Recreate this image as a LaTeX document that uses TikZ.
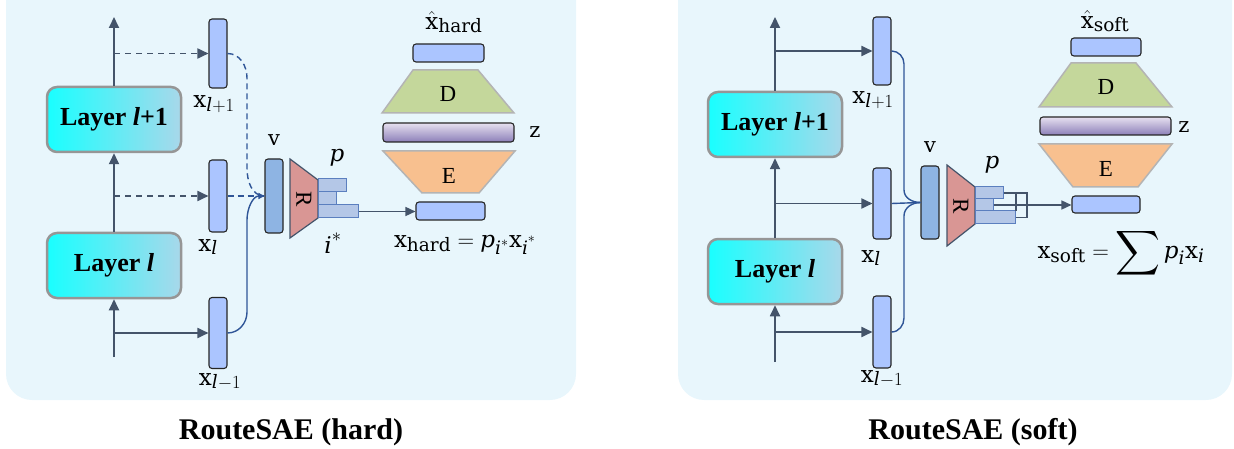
\RequirePackage{fix-cm}
\documentclass[tikz,border=0pt]{standalone}
\usepackage{amsmath}
\usepackage{fontspec}
\setmainfont{Liberation Serif}
\setmathrm{DejaVu Serif}
\newfontfamily\labelfont{DejaVu Serif}
\usetikzlibrary{arrows.meta}
\DeclareMathSizes{23}{23}{18.5}{14}
\definecolor{panelC}{HTML}{E8F6FC}
\definecolor{lineC}{HTML}{44546A}
\definecolor{curveC}{HTML}{2F5597}
\definecolor{barC}{HTML}{ABC5FF}
\definecolor{vC}{HTML}{8EB4E3}
\definecolor{rC}{HTML}{D99694}
\definecolor{pC}{HTML}{B4C7E7}
\definecolor{pEdge}{HTML}{5B7FBF}
\definecolor{encC}{HTML}{F8C08F}
\definecolor{decC}{HTML}{C4D79B}
\definecolor{trapEdge}{HTML}{B4B4B4}
\definecolor{zTop}{HTML}{E6E0F0}
\definecolor{zBot}{HTML}{8C7FB8}
\definecolor{layerL}{HTML}{19FFFF}
\definecolor{layerR}{HTML}{A8D8EA}
\definecolor{layerEdge}{HTML}{969696}
% upright vector letter and italic index letters for the labels
\newcommand{\vx}{\mathrm{x}}
\newcommand{\iv}[1]{\text{\labelfont\itshape #1}}
\newcommand{\bigsum}{\mathop{\vcenter{\hbox{\scalebox{1.25}{$\displaystyle\sum$}}}}}
\tikzset{
  panel/.style={fill=panelC, draw=none, rounded corners=26pt},
  layerbox/.style={draw=layerEdge, line width=2.5pt, rounded corners=10pt,
    left color=layerL, right color=layerR, minimum width=134pt, minimum height=65pt,
    inner sep=0pt, font=\bfseries\fontsize{26}{30}\selectfont},
  bar/.style={draw=black!85, line width=1.1pt, fill=barC, rounded corners=3pt,
    inner sep=0pt},
  vbar/.style={bar, fill=vC},
  pbar/.style={draw=pEdge, line width=1pt, fill=pC, inner sep=0pt},
  zbar/.style={draw=black!85, line width=1.1pt, top color=zTop, bottom color=zBot,
    rounded corners=3pt, inner sep=0pt},
  router/.style={draw=lineC, line width=1.2pt, fill=rC},
  enc/.style={draw=trapEdge, line width=1.5pt, fill=encC},
  dec/.style={draw=trapEdge, line width=1.5pt, fill=decC},
  flow/.style={draw=lineC, line width=1.8pt},
  tip/.style={-{Triangle[length=11pt,width=10pt]}},
  dashflow/.style={flow, dash pattern=on 6pt off 5pt},
  route/.style={draw=curveC, line width=1.4pt},
  smalltip/.style={-{Triangle[length=6pt,width=6pt]}},
  lbl/.style={inner sep=0pt, font=\fontsize{23}{27}\selectfont},
  vlbl/.style={inner sep=0pt, font=\labelfont\fontsize{21}{25}\selectfont},
  caption/.style={inner sep=0pt, font=\bfseries\fontsize{30}{34}\selectfont},
}
\begin{document}
\begin{tikzpicture}[x=1pt,y=-1pt]
\useasboundingbox (0,0) rectangle (1234,449);

% ---------------- hard routing ----------------
\path[panel] (6,-30) rectangle (576,400);

\node[layerbox] (hL1) at (114,119.5) {Layer \textit{l}+1};
\node[layerbox] (hL)  at (114,265.5) {Layer \textit{l}};
\coordinate (hin)  at (114,357);
\coordinate (hout) at (114,17);
\draw[flow,tip] (hin) -- (hL.south);
\draw[flow,tip] (hL.north) -- (hL1.south);
\draw[flow,tip] (hL1.north) -- (hout);

\node[bar, minimum width=18pt, minimum height=69pt] (hx3) at (218,53.5) {};
\node[bar, minimum width=18pt, minimum height=72pt] (hx2) at (218,196) {};
\node[bar, minimum width=18pt, minimum height=71pt] (hx1) at (218,333) {};
\coordinate (ht3) at (114,53.5);
\coordinate (ht2) at (114,196);
\coordinate (ht1) at (114,333);
\draw[dashflow,tip] (ht3) -- (hx3.west);
\draw[dashflow,tip] (ht2) -- (hx2.west);
\draw[flow,tip] (ht1) -- (hx1.west);

\node[lbl] (hlx3) at (214,104) {$\vx_{\iv{l}+1}$};
\node[lbl] (hlx2) at (208,247) {$\vx_{\iv{l}}$};
\node[lbl] (hlx1) at (220,382) {$\vx_{\iv{l}-1}$};

\node[vbar, minimum width=18pt, minimum height=74pt] (hv) at (274,196) {};
\node[vlbl] (hlv) at (274,140) {v};

\draw[route, dash pattern=on 6pt off 4pt]
  (hx3.east) to[out=0,in=90] (247,78) -- (247,168) to[out=-90,in=180] (hv.west);
\draw[route, dash pattern=on 6pt off 4pt] (hx2.east) -- (hv.west);
\draw[route,smalltip]
  (hx1.east) to[out=0,in=-90] (247,312) -- (247,220) to[out=90,in=180] (hv.west);

\draw[router] (290,159) -- (318,180) -- (318,218) -- (290,238) -- cycle;
\node[lbl, rotate=-90] (hR) at (304,199) {R};

\node[pbar, minimum width=28pt, minimum height=13pt] (hp1) at (332,185.5) {};
\node[pbar, minimum width=18pt, minimum height=13pt] (hp2) at (327,198.5) {};
\node[pbar, minimum width=40pt, minimum height=13pt] (hp3) at (338,211.5) {};
\node[lbl] (hlp) at (337,158) {$\iv{p}$};
\node[lbl] (hli) at (333,243) {$\iv{i}^*$};

\node[bar, minimum width=69pt, minimum height=18pt] (hin2) at (450.5,211) {};
\draw[flow, line width=1.5pt, -{Triangle[length=10pt,width=9pt]}] (hp3.east) -- (hp3.east -| hin2.west);

\draw[enc] (383,151) -- (515,151) -- (479,193) -- (422,193) -- cycle;
\node[lbl] (hE) at (449,176) {E};
\node[zbar, minimum width=131pt, minimum height=19pt] (hz) at (448.5,132.5) {};
\node[vlbl] (hlz) at (535,132) {z};
\draw[dec] (413,70) -- (478,70) -- (514,113) -- (382,113) -- cycle;
\node[lbl] (hD) at (448,94) {D};
\node[bar, minimum width=71pt, minimum height=18pt] (hout2) at (448.5,53) {};
\node[lbl] (hlxh) at (454,22) {$\hat{\vx}_{\mathrm{hard}}$};
\node[lbl] (heq) at (465,245) {$\vx_{\mathrm{hard}} = \iv{p}_{\iv{i}^*}\vx_{\iv{i}^*}$};

\node[caption] (hcap) at (291,432) {RouteSAE (hard)};

% ---------------- soft routing ----------------
\path[panel] (678,-30) rectangle (1232,400);

\node[layerbox] (sL1) at (775,124.5) {Layer \textit{l}+1};
\node[layerbox] (sL)  at (775,271.5) {Layer \textit{l}};
\coordinate (sin)  at (775,362);
\coordinate (sout) at (775,17);
\draw[flow,tip] (sin) -- (sL.south);
\draw[flow,tip] (sL.north) -- (sL1.south);
\draw[flow,tip] (sL1.north) -- (sout);

\node[bar, minimum width=18pt, minimum height=68pt] (sx3) at (882,51) {};
\node[bar, minimum width=18pt, minimum height=71pt] (sx2) at (882,203.5) {};
\node[bar, minimum width=18pt, minimum height=72pt] (sx1) at (882,332) {};
\coordinate (st3) at (775,51);
\coordinate (st2) at (775,203.5);
\coordinate (st1) at (775,332);
\draw[flow,tip] (st3) -- (sx3.west);
\draw[flow,tip] (st2) -- (sx2.west);
\draw[flow,tip] (st1) -- (sx1.west);

\node[lbl] (slx3) at (873,100) {$\vx_{\iv{l}+1}$};
\node[lbl] (slx2) at (871,258) {$\vx_{\iv{l}}$};
\node[lbl] (slx1) at (882,379) {$\vx_{\iv{l}-1}$};

\node[vbar, minimum width=18pt, minimum height=73pt] (sv) at (930,202.5) {};
\node[vlbl] (slv) at (930,147) {v};

\draw[route]
  (sx3.east) to[out=0,in=90] (904,64) -- (904,190) to[out=-90,in=180] (sv.west);
\draw[route] (sx2.east) -- (sv.west);
\draw[route]
  (sx1.east) to[out=0,in=-90] (904,318) -- (904,216) to[out=90,in=180] (sv.west);

\draw[router] (947,165) -- (975,187) -- (975,224) -- (947,246) -- cycle;
\node[lbl, rotate=-90] (sR) at (961,206) {R};

\node[pbar, minimum width=28pt, minimum height=12pt] (sp1) at (989,193) {};
\node[pbar, minimum width=18pt, minimum height=12pt] (sp2) at (984,205) {};
\node[pbar, minimum width=40pt, minimum height=13pt] (sp3) at (995,217.5) {};
\node[lbl] (slp) at (992,165) {$\iv{p}$};
\coordinate (sj) at (1027,193);
\draw[draw=lineC, line width=1.2pt] (sp1.east) -- (sj) -- (sj |- sp3.east) -- (sp3.east);
\draw[draw=lineC, line width=1.2pt] (1016,193) -- (1016,211);

\node[bar, minimum width=68pt, minimum height=17pt] (sin2) at (1106,204.5) {};
\draw[flow, line width=1.5pt, -{Triangle[length=10pt,width=9pt]}] (sp2.east) -- (sp2.east -| sin2.west);

\draw[enc] (1039,144) -- (1172,144) -- (1138,187) -- (1073,187) -- cycle;
\node[lbl] (sE) at (1106,169) {E};
\node[zbar, minimum width=131pt, minimum height=18pt] (sz) at (1105.5,126) {};
\node[vlbl] (slz) at (1184,127) {z};
\draw[dec] (1071,63) -- (1136,63) -- (1172,107) -- (1039,107) -- cycle;
\node[lbl] (sD) at (1106,87) {D};
\node[bar, minimum width=70pt, minimum height=18pt] (sout2) at (1106,47) {};
\node[lbl] (slxh) at (1105,21) {$\hat{\vx}_{\mathrm{soft}}$};
\node[lbl] (seq) at (1121,253) {$\vx_{\mathrm{soft}} = \bigsum \iv{p}_{\iv{i}}\vx_{\iv{i}}$};

\node[caption] (scap) at (973,432) {RouteSAE (soft)};
\end{tikzpicture}
\end{document}
